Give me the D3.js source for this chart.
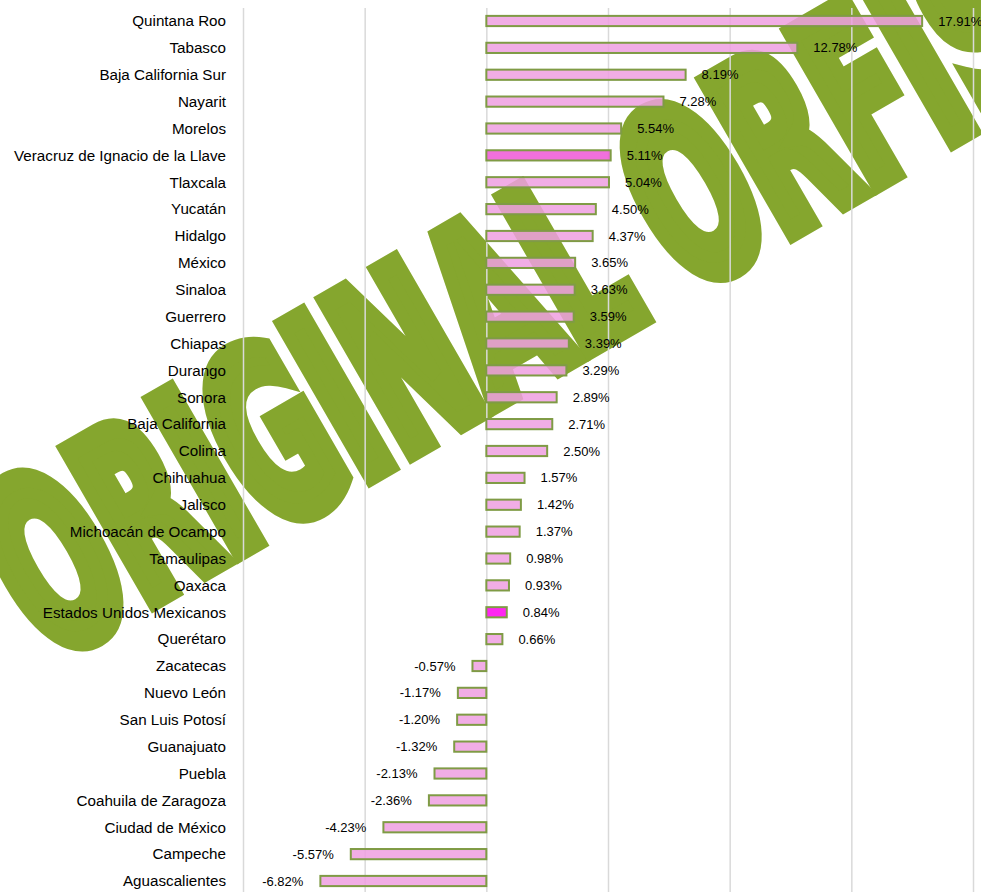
<!DOCTYPE html>
<html lang="es">
<head>
<meta charset="UTF-8">
<title>Variación por entidad federativa</title>
<script src="https://d3js.org/d3.v7.min.js"></script>
<style>
  body { margin: 0; background: #fff; }
  svg { display: block; font-family: "Liberation Sans", Arial, sans-serif; }
</style>
</head>
<body>
<svg id="chart"></svg>
<script>
const categories = [
  "Quintana Roo", "Tabasco", "Baja California Sur", "Nayarit", "Morelos",
  "Veracruz de Ignacio de la Llave", "Tlaxcala", "Yucatán", "Hidalgo", "México",
  "Sinaloa", "Guerrero", "Chiapas", "Durango", "Sonora", "Baja California",
  "Colima", "Chihuahua", "Jalisco", "Michoacán de Ocampo", "Tamaulipas", "Oaxaca",
  "Estados Unidos Mexicanos", "Querétaro", "Zacatecas", "Nuevo León",
  "San Luis Potosí", "Guanajuato", "Puebla", "Coahuila de Zaragoza",
  "Ciudad de México", "Campeche", "Aguascalientes"
];
const values = [
  17.91, 12.78, 8.19, 7.28, 5.54,
  5.11, 5.04, 4.50, 4.37, 3.65,
  3.63, 3.59, 3.39, 3.29, 2.89, 2.71,
  2.50, 1.57, 1.42, 1.37, 0.98, 0.93,
  0.84, 0.66, -0.57, -1.17,
  -1.20, -1.32, -2.13, -2.36,
  -4.23, -5.57, -6.82
];
const xDomain = [-10, 20];

const width = 981, height = 892;
const data = categories.map((c, i) => ({ name: c, value: values[i] }));

const svg = d3.select("#chart")
  .attr("width", width)
  .attr("height", height);

// watermark sits underneath everything else
const wm = 235;
svg.append("text")
  .attr("transform", "translate(512,294) rotate(-30)")
  .attr("y", wm * 0.73 / 2)
  .attr("text-anchor", "middle")
  .attr("textLength", 1170)
  .attr("lengthAdjust", "spacingAndGlyphs")
  .style("font-family", "'DejaVu Sans Condensed', 'DejaVu Sans', sans-serif")
  .style("font-weight", "bold")
  .style("font-size", wm + "px")
  .attr("fill", "#85a62e")
  .attr("stroke", "#85a62e")
  .attr("stroke-width", 22)
  .attr("stroke-linejoin", "miter")
  .text("ORIGINAL ORFIS");

const x = d3.scaleLinear().domain(xDomain).range([243, 973]);

const y = d3.scaleBand()
  .domain(categories)
  .range([7.56, 894.44])
  .paddingInner(0.62)
  .paddingOuter(0.31);

// vertical gridlines
svg.append("g")
  .attr("transform", "translate(0,8)")
  .call(d3.axisBottom(x).ticks(6).tickSize(height).tickFormat(""))
  .call(g => g.select(".domain").remove())
  .call(g => g.selectAll(".tick line").attr("stroke", "#d9d9d9").attr("stroke-width", 1.5));

const fillFor = d => d.name === "Estados Unidos Mexicanos" ? "#ff00ee"
  : d.name === "Veracruz de Ignacio de la Llave" ? "#ee57d6" : "#ee9fe0";

svg.append("g")
  .selectAll("rect")
  .data(data)
  .join("rect")
  .attr("x", d => x(Math.min(0, d.value)))
  .attr("width", d => Math.abs(x(d.value) - x(0)))
  .attr("y", d => y(d.name))
  .attr("height", y.bandwidth())
  .attr("fill", fillFor)
  .attr("fill-opacity", 0.85)
  .attr("stroke", "#7f9b45")
  .attr("stroke-width", 2);

// category names
svg.append("g")
  .selectAll("text")
  .data(data)
  .join("text")
  .attr("x", 226)
  .attr("y", d => y(d.name) + y.bandwidth() / 2)
  .attr("dy", "0.35em")
  .attr("text-anchor", "end")
  .style("font-size", "15.2px")
  .attr("fill", "#000")
  .text(d => d.name);

// value labels
svg.append("g")
  .selectAll("text")
  .data(data)
  .join("text")
  .attr("x", d => d.value >= 0 ? x(d.value) + 16 : x(d.value) - 17)
  .attr("y", d => y(d.name) + y.bandwidth() / 2)
  .attr("dy", "0.35em")
  .attr("text-anchor", d => d.value >= 0 ? "start" : "end")
  .style("font-size", "13px")
  .attr("fill", "#000")
  .text(d => d.value.toFixed(2) + "%");
</script>
</body>
</html>
